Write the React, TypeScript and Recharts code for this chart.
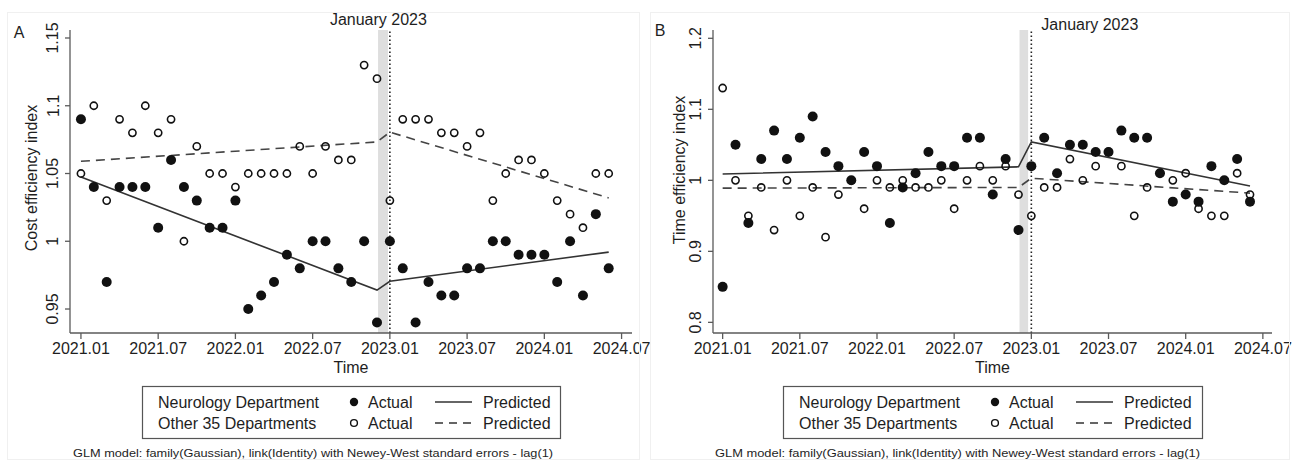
import React from "react";
import {
  ComposedChart,
  XAxis,
  YAxis,
  Scatter,
  Line,
  ReferenceArea,
  ReferenceLine,
} from "recharts";

// months 2021.01 .. 2024.06
const monthLabels = [
  "2021.01", "2021.02", "2021.03", "2021.04", "2021.05", "2021.06",
  "2021.07", "2021.08", "2021.09", "2021.10", "2021.11", "2021.12",
  "2022.01", "2022.02", "2022.03", "2022.04", "2022.05", "2022.06",
  "2022.07", "2022.08", "2022.09", "2022.10", "2022.11", "2022.12",
  "2023.01", "2023.02", "2023.03", "2023.04", "2023.05", "2023.06",
  "2023.07", "2023.08", "2023.09", "2023.10", "2023.11", "2023.12",
  "2024.01", "2024.02", "2024.03", "2024.04", "2024.05", "2024.06",
];
const xTickPos = [0, 6, 12, 18, 24, 30, 36, 42];
const xTickLabels = ["2021.01", "2021.07", "2022.01", "2022.07", "2023.01", "2023.07", "2024.01", "2024.07"];

// Panel A: cost efficiency index
const neuroCost = [
  1.09, 1.04, 0.97, 1.04, 1.04, 1.04, 1.01, 1.06, 1.04, 1.03,
  1.01, 1.01, 1.03, 0.95, 0.96, 0.97, 0.99, 0.98, 1.0, 1.0,
  0.98, 0.97, 1.0, 0.94, 1.0, 0.98, 0.94, 0.97, 0.96, 0.96,
  0.98, 0.98, 1.0, 1.0, 0.99, 0.99, 0.99, 0.97, 1.0, 0.96,
  1.02, 0.98,
];
const otherCost = [
  1.05, 1.1, 1.03, 1.09, 1.08, 1.1, 1.08, 1.09, 1.0, 1.07,
  1.05, 1.05, 1.04, 1.05, 1.05, 1.05, 1.05, 1.07, 1.05, 1.07,
  1.06, 1.06, 1.13, 1.12, 1.03, 1.09, 1.09, 1.09, 1.08, 1.08,
  1.07, 1.08, 1.03, 1.05, 1.06, 1.06, 1.05, 1.03, 1.02, 1.01,
  1.05, 1.05,
];

// Panel B: time efficiency index
const neuroTime = [
  0.85, 1.05, 0.94, 1.03, 1.07, 1.03, 1.06, 1.09, 1.04, 1.02,
  1.0, 1.04, 1.02, 0.94, 0.99, 1.01, 1.04, 1.02, 1.02, 1.06,
  1.06, 0.98, 1.03, 0.93, 1.02, 1.06, 1.01, 1.05, 1.05, 1.04,
  1.04, 1.07, 1.06, 1.06, 1.01, 0.97, 0.98, 0.97, 1.02, 1.0,
  1.03, 0.97,
];
const otherTime = [
  1.13, 1.0, 0.95, 0.99, 0.93, 1.0, 0.95, 0.99, 0.92, 0.98,
  1.0, 0.96, 1.0, 0.99, 1.0, 0.99, 0.99, 1.0, 0.96, 1.0,
  1.02, 1.0, 1.02, 0.98, 0.95, 0.99, 0.99, 1.03, 1.0, 1.02,
  1.04, 1.02, 0.95, 0.99, 1.01, 1.0, 1.01, 0.96, 0.95, 0.95,
  1.01, 0.98,
];

// predicted segments (segment ends)
const predMonths = [0, 23, 24, 41];
const neuroPredCost = [1.0475, 0.964, 0.9705, 0.992];
const otherPredCost = [1.059, 1.0733, 1.0805, 1.032];
const neuroPredTime = [1.009, 1.019, 1.054, 0.992];
const otherPredTime = [0.989, 0.99, 1.003, 0.982];

const costTicks = [0.95, 1, 1.05, 1.1, 1.15];
const timeTicks = [0.8, 0.9, 1, 1.1, 1.2];

const FONT = "'Liberation Sans', Arial, Helvetica, sans-serif";
const INK = "#1e1e1e";
const AXIS = "#5a5a5a";

const pts = (vals: number[]) => vals.map((y, i) => ({ x: i, y, month: monthLabels[i] }));
const seg = (vals: number[]) => vals.map((y, i) => ({ x: predMonths[i], y }));

function FilledDot(p: any) {
  if (p.cx == null || p.cy == null) return <g />;
  return <circle cx={p.cx} cy={p.cy} r={5} fill="#111" />;
}
function OpenDot(p: any) {
  if (p.cx == null || p.cy == null) return <g />;
  return <circle cx={p.cx} cy={p.cy} r={3.6} fill="none" stroke="#111" strokeWidth={1.6} />;
}

function RotTick(p: any) {
  const cx = p.x - 12;
  return (
    <text
      x={cx}
      y={p.y}
      transform={`rotate(-90 ${cx} ${p.y})`}
      textAnchor="middle"
      dominantBaseline="central"
      fontFamily={FONT}
      fontSize={16}
      fill={INK}
    >
      {String(p.payload.value)}
    </text>
  );
}

function JanLabel(p: any) {
  const vb = p.viewBox || { x: 0 };
  return (
    <text
      x={vb.x + p.dx}
      y={p.baseY}
      textAnchor={p.anchor}
      fontFamily={FONT}
      fontSize={16}
      fill={INK}
    >
      January 2023
    </text>
  );
}

interface PanelProps {
  neuro: number[];
  other: number[];
  neuroPred: number[];
  otherPred: number[];
  yTicks: number[];
  yDomain: [number, number];
  xDomain: [number, number];
  width: number;
  yAxisWidth: number;
  marginRight: number;
  bandEnd: number;
  janDx: number;
  janY: number;
  janAnchor: string;
}

function Panel(props: PanelProps) {
  return (
    <ComposedChart
      width={props.width}
      height={380}
      margin={{ top: 30, right: props.marginRight, left: 0, bottom: 3 }}
      style={{ overflow: "visible" }}
    >
      <XAxis
        type="number"
        dataKey="x"
        domain={props.xDomain}
        allowDataOverflow
        ticks={xTickPos}
        interval={0}
        tickFormatter={(v: number) => xTickLabels[xTickPos.indexOf(v)] ?? ""}
        tick={{ fontFamily: FONT, fontSize: 16, fill: INK }}
        tickSize={6}
        tickMargin={4}
        stroke={AXIS}
        strokeWidth={1.3}
        height={44}
        label={{
          value: "Time",
          position: "insideBottom",
          offset: 4,
          fontFamily: FONT,
          fontSize: 16,
          fill: INK,
        }}
      />
      <YAxis
        type="number"
        domain={props.yDomain}
        allowDataOverflow
        ticks={props.yTicks}
        interval={0}
        width={props.yAxisWidth}
        tick={<RotTick />}
        tickSize={5}
        tickMargin={0}
        stroke={AXIS}
        strokeWidth={1.3}
      />
      <ReferenceArea x1={23.08} x2={props.bandEnd} fill="#dedede" fillOpacity={1} stroke="none" />
      <ReferenceLine
        x={24}
        stroke="#222"
        strokeWidth={1.6}
        strokeDasharray="1.6 2.4"
        label={<JanLabel dx={props.janDx} baseY={props.janY} anchor={props.janAnchor} />}
      />
      <Line
        data={seg(props.otherPred)}
        dataKey="y"
        type="linear"
        stroke="#444"
        strokeWidth={1.6}
        strokeDasharray="9 6"
        dot={false}
        isAnimationActive={false}
      />
      <Line
        data={seg(props.neuroPred)}
        dataKey="y"
        type="linear"
        stroke="#333"
        strokeWidth={1.6}
        dot={false}
        isAnimationActive={false}
      />
      <Scatter data={pts(props.other)} dataKey="y" shape={<OpenDot />} isAnimationActive={false} />
      <Scatter data={pts(props.neuro)} dataKey="y" shape={<FilledDot />} isAnimationActive={false} />
    </ComposedChart>
  );
}

const overlays = [
  { letter: "A", lx: 19, ly: 32, title: "Cost efficiency index", tx: 31, ty: 178, legX: 142, legW: 418, noteX: 73, noteW: 480 },
  { letter: "B", lx: 660, ly: 30, title: "Time efficiency index", tx: 679, ty: 170, legX: 783, legW: 419, noteX: 715, noteW: 485 },
];
const legendGroups = ["Neurology Department", "Other 35 Departments"];
const legendActual = "Actual";
const legendPred = "Predicted";
const note = "GLM model: family(Gaussian), link(Identity) with Newey-West standard errors - lag(1)";

function Overlay() {
  return (
    <svg width={1292} height={462} style={{ position: "absolute", left: 0, top: 0, pointerEvents: "none" }}>
      <rect x={7.5} y={12.5} width={632} height={447} fill="none" stroke="#f0f0f0" />
      <rect x={650.5} y={12.5} width={639} height={447} fill="none" stroke="#f0f0f0" />
      {overlays.map((o) => (
        <g key={o.letter} fontFamily={FONT} fill={INK}>
          <text x={o.lx} y={o.ly} textAnchor="middle" dominantBaseline="central" fontSize={16}>
            {o.letter}
          </text>
          <text
            x={o.tx}
            y={o.ty}
            transform={`rotate(-90 ${o.tx} ${o.ty})`}
            textAnchor="middle"
            dominantBaseline="central"
            fontSize={16}
          >
            {o.title}
          </text>
          <rect x={o.legX + 0.5} y={386.5} width={o.legW} height={52} fill="#fff" stroke="#555" strokeWidth={1.2} />
          {legendGroups.map((g, r) => {
            const cy = r === 0 ? 402 : 423;
            return (
              <g key={g}>
                <text x={o.legX + 16} y={cy} dominantBaseline="central" fontSize={16}>
                  {g}
                </text>
                {r === 0 ? (
                  <circle cx={o.legX + 212} cy={cy} r={4.2} fill="#111" />
                ) : (
                  <circle cx={o.legX + 212} cy={cy} r={3.4} fill="none" stroke="#111" strokeWidth={1.4} />
                )}
                <text x={o.legX + 226} y={cy} dominantBaseline="central" fontSize={16}>
                  {legendActual}
                </text>
                <line
                  x1={o.legX + 293}
                  x2={o.legX + 330}
                  y1={cy}
                  y2={cy}
                  stroke="#333"
                  strokeWidth={1.5}
                  strokeDasharray={r === 0 ? undefined : "8 6"}
                />
                <text x={o.legX + 341} y={cy} dominantBaseline="central" fontSize={16}>
                  {legendPred}
                </text>
              </g>
            );
          })}
          <text
            x={o.noteX}
            y={453}
            dominantBaseline="central"
            fontSize={10.5}
            textLength={o.noteW}
            lengthAdjust="spacingAndGlyphs"
          >
            {note}
          </text>
        </g>
      ))}
    </svg>
  );
}

export default function App() {
  return (
    <div style={{ position: "absolute", left: 0, top: 0, width: 1292, height: 462, background: "#fff", overflow: "hidden" }}>
      <div style={{ position: "absolute", left: 646, top: 0 }}>
        <Panel
          neuro={neuroTime}
          other={otherTime}
          neuroPred={neuroPredTime}
          otherPred={otherPredTime}
          yTicks={timeTicks}
          yDomain={[0.785, 1.2117]}
          xDomain={[-0.75, 42.71]}
          width={646}
          yAxisWidth={67}
          marginRight={20}
          bandEnd={23.75}
          janDx={10}
          janY={30}
          janAnchor="start"
        />
      </div>
      <div style={{ position: "absolute", left: 0, top: 0 }}>
        <Panel
          neuro={neuroCost}
          other={otherCost}
          neuroPred={neuroPredCost}
          otherPred={otherPredCost}
          yTicks={costTicks}
          yDomain={[0.9323, 1.1559]}
          xDomain={[-0.85, 42.81]}
          width={680}
          yAxisWidth={70}
          marginRight={48}
          bandEnd={23.85}
          janDx={-11.5}
          janY={25}
          janAnchor="middle"
        />
      </div>
      <Overlay />
    </div>
  );
}
